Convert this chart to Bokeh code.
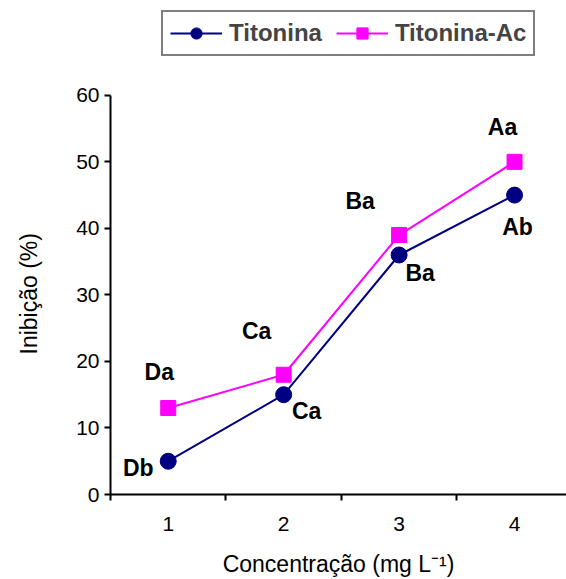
from bokeh.plotting import figure
from bokeh.models import (Range1d, FixedTicker, Legend, LegendItem, ColumnDataSource, Title)
from bokeh.core.properties import value
from bokeh.embed import file_html
from bokeh.resources import INLINE

# ---- data ----
concentration = [1, 2, 3, 4]
titonina = [5, 15, 36, 45]
titonina_ac = [13, 18, 39, 50]
titonina_letters = ["Db", "Ca", "Ba", "Ab"]
titonina_ac_letters = ["Da", "Ca", "Ba", "Aa"]
y_ticks = [0, 10, 20, 30, 40, 50, 60]
x_tick_labels = ["1", "2", "3", "4"]

# label offsets in screen pixels (styling)
tit_dx = [-30, 23, 21, 3]
tit_dy = [7, 16, 18, 32]
ac_dx = [-9, -27, -39, -12]
ac_dy = [-36, -44, -34, -35]

FONT = "Liberation Sans"
NAVY = "#000080"
MAGENTA = "#FF00FF"

p = figure(width=566, height=579, output_backend="svg", toolbar_location=None,
           x_range=Range1d(0.5, 4.45), y_range=Range1d(0, 73.5),
           min_border_left=104, min_border_right=0, min_border_top=5,
           min_border_bottom=84)
p.outline_line_color = None
p.grid.visible = False
p.background_fill_color = "white"

src_t = ColumnDataSource(dict(x=concentration, y=titonina, lab=titonina_letters,
                              dx=tit_dx, dy=tit_dy))
src_a = ColumnDataSource(dict(x=concentration, y=titonina_ac, lab=titonina_ac_letters,
                              dx=ac_dx, dy=ac_dy))

l_a = p.line("x", "y", source=src_a, line_color=MAGENTA, line_width=2)
s_a = p.scatter("x", "y", source=src_a, marker="square", size=15,
                fill_color=MAGENTA, line_color=MAGENTA)
l_t = p.line("x", "y", source=src_t, line_color=NAVY, line_width=2)
s_t = p.scatter("x", "y", source=src_t, marker="circle", size=16,
                fill_color=NAVY, line_color=NAVY)

for src in (src_t, src_a):
    p.text("x", "y", text="lab", source=src, x_offset="dx", y_offset="dy",
           text_font=value(FONT), text_font_style="bold", text_font_size="23px",
           text_align="center", text_baseline="middle", text_color="black")

# axes
xa = p.xaxis[0]
xa.ticker = FixedTicker(ticks=concentration, minor_ticks=[0.5, 1.5, 2.5, 3.5])
xa.major_label_overrides = {c: t for c, t in zip(concentration, x_tick_labels)}
xa.major_tick_line_color = None
xa.major_tick_out = 6
xa.minor_tick_out = 6
xa.minor_tick_in = 0
xa.minor_tick_line_width = 2
xa.minor_tick_line_color = "black"
xa.axis_line_width = 2
xa.axis_line_color = "black"
xa.major_label_text_font = FONT
xa.major_label_text_font_size = "21px"
xa.major_label_text_color = "black"
xa.major_label_standoff = 16
xa.axis_label = "Concentração (mg L⁻¹)"
xa.axis_label_text_font = FONT
xa.axis_label_text_font_size = "23px"
xa.axis_label_text_font_style = "normal"
xa.axis_label_text_color = "black"
xa.axis_label_standoff = 17

ya = p.yaxis[0]
ya.ticker = FixedTicker(ticks=y_ticks, minor_ticks=[])
ya.bounds = (y_ticks[0], y_ticks[-1])
ya.major_tick_out = 6
ya.major_tick_in = 0
ya.major_tick_line_width = 2
ya.axis_line_width = 2
ya.axis_line_color = "black"
ya.major_label_text_font = FONT
ya.major_label_text_font_size = "21px"
ya.major_label_text_color = "black"
ya.major_label_standoff = 5
# blank spacer label to widen the axis panel
ya.axis_label = " "
ya.axis_label_text_font_size = "1px"
ya.axis_label_standoff = 11

ytitle = Title(text="Inibição (%)", align="left", offset=140, standoff=30,
               vertical_align="top",
               text_font=FONT, text_font_size="23px", text_font_style="normal",
               text_color="black")
p.add_layout(ytitle, "left")

legend = Legend(items=[LegendItem(label="Titonina", renderers=[l_t, s_t]),
                       LegendItem(label="Titonina-Ac", renderers=[l_a, s_a])],
                orientation="horizontal", location=(51, 438),
                border_line_color="black", border_line_width=2,
                background_fill_color="white", background_fill_alpha=1,
                label_text_font=FONT, label_text_font_style="bold",
                label_text_font_size="24px", glyph_width=52, glyph_height=28,
                label_standoff=7, spacing=14, padding=7, margin=0)
p.add_layout(legend, "center")

open("out.html", "w").write(file_html(p, INLINE))
